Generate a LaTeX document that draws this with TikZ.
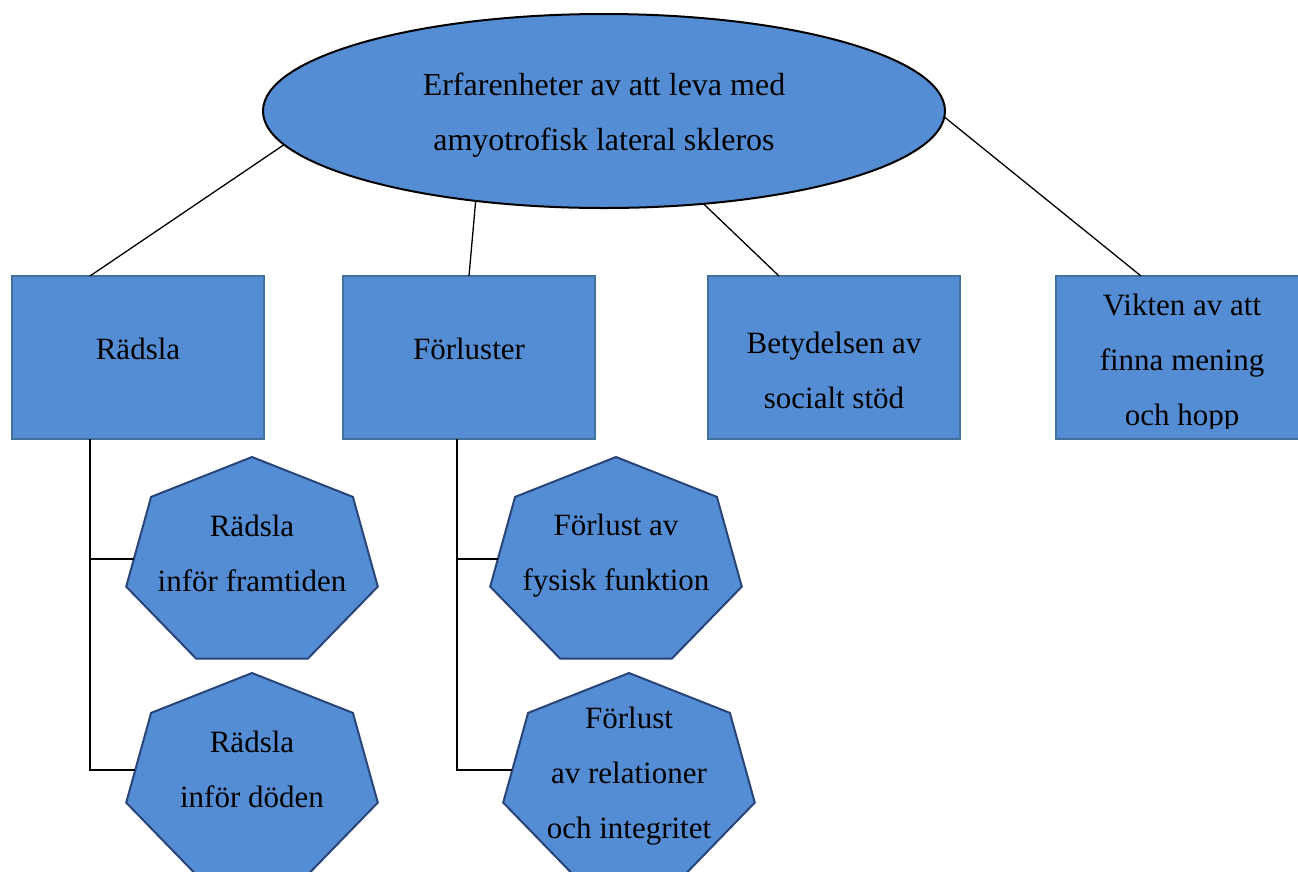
\documentclass[tikz,border=0pt]{standalone}
\usepackage{fontspec}
\setmainfont{Liberation Serif}
\usetikzlibrary{calc,shapes.geometric}
\definecolor{boxfill}{RGB}{84,141,212}
\definecolor{rectedge}{RGB}{65,113,156}
\definecolor{heptedge}{RGB}{40,68,120}
% #1 name, #2 cx, #3 cy, #4 text y, #5 connector dy, #6 text
\newcommand{\heptashape}[6]{%
  \draw[hept] ({#2},{#3-106}) -- ({#2+100.9},{#3-66.1}) -- ({#2+125.8},{#3+23.6})
    -- ({#2+56},{#3+95.5}) -- ({#2-56},{#3+95.5}) -- ({#2-125.8},{#3+23.6})
    -- ({#2-100.9},{#3-66.1}) -- cycle;
  \node[txt] (#1) at (#2,#4) {#6};
  \coordinate (#1w) at ({#2-100.9-24.9*((#5)+66.1)/89.7},{#3+(#5)});
}
\begin{document}
\begin{tikzpicture}[x=1pt,y=-1pt,
  every node/.style={inner sep=0pt, outer sep=0pt},
  txt/.style={font=\fontsize{31}{55}\selectfont, align=center},
  rbox/.style={draw=rectedge, fill=boxfill, line width=2pt, minimum width=252pt, minimum height=163pt},
  hept/.style={draw=heptedge, fill=boxfill, line width=2pt, line join=miter},
  conn/.style={draw=black, line width=1.3pt},
]
\clip (0,0) rectangle (1298,871);

\node[ellipse, draw=black, fill=boxfill, line width=2pt, minimum width=682pt, minimum height=194pt] (top) at (604,111) {};
\node[txt, font=\fontsize{32}{55}\selectfont] (toptext) at (604,115) {Erfarenheter av att leva med\\amyotrofisk lateral skleros};

\node[rbox] (r1) at (138,357.5) {};
\node[rbox] (r2) at (469,357.5) {};
\node[rbox] (r3) at (834,357.5) {};
\node[rbox] (r4) at (1182,357.5) {};

\node[txt] (t1) at (138,348.5) {Rädsla};
\node[txt] (t2) at (469,348.5) {Förluster};
\node[txt] (t3) at (834,370) {Betydelsen av\\socialt stöd};
\begin{scope}
  \clip (1056,276) rectangle (1298,428);
  \node[txt] (t4) at (1182,363.5) {Vikten av att\\finna mening\\och hopp};
\end{scope}

\heptashape{h1}{252}{563}{553}{-4}{Rädsla\\inför framtiden}
\heptashape{h2}{252}{779}{769}{-9}{Rädsla\\inför döden}
\heptashape{h3}{616}{563}{556}{-4}{Förlust av\\fysisk funktion}
\heptashape{h4}{629}{779}{776.5}{-9}{Förlust\\av relationer\\och integritet}

\draw[conn] (top.186.4) -- ($(r1.north)+(-48,0)$);
\draw[conn] (top.215.5) -- (r2.north);
\draw[conn] (top.317) -- ($(r3.north)+(-55,0)$);
\draw[conn] (top.-1) -- ($(r4.north)+(-41,0)$);

\coordinate (r1b) at ($(r1.south)+(-48,0)$);
\coordinate (r2b) at ($(r2.south)+(-12,0)$);
\draw[conn] (r1b) |- (h2w);
\draw[conn] (h1w) -- (h1w -| r1b);
\draw[conn] (r2b) |- (h4w);
\draw[conn] (h3w) -- (h3w -| r2b);
\end{tikzpicture}
\end{document}
